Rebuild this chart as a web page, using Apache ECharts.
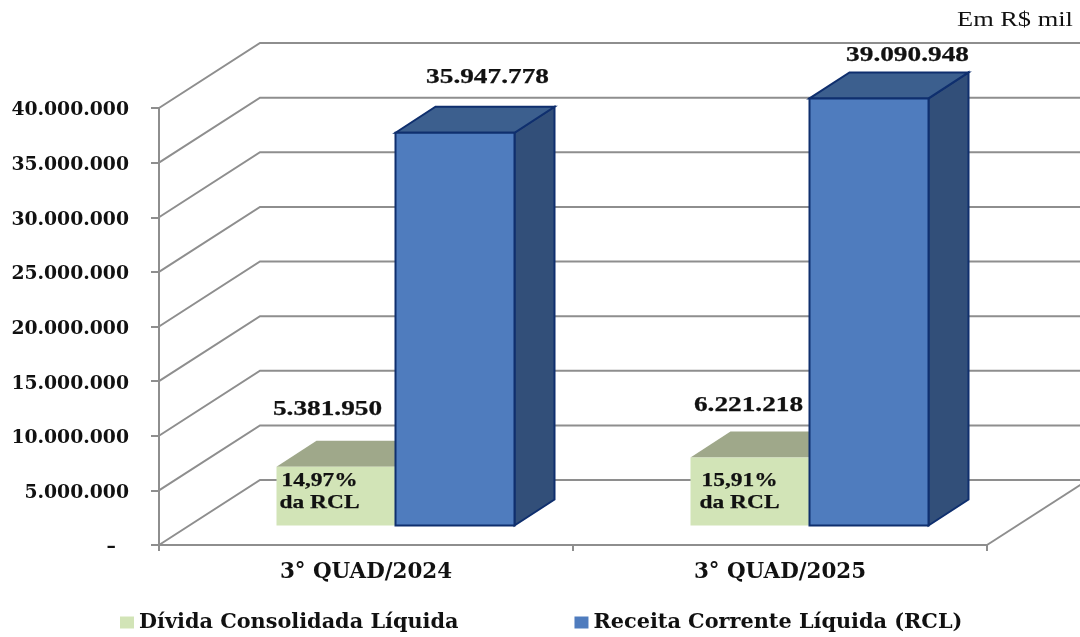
<!DOCTYPE html>
<html>
<head>
<meta charset="utf-8">
<style>html,body{margin:0;padding:0;background:#fff}#c{width:1080px;height:637px}</style>
<script src="https://cdn.jsdelivr.net/npm/echarts@6/dist/echarts.min.js"></script>
</head>
<body>
<div id="c"></div>
<script>
const categories = ['3° QUAD/2024', '3° QUAD/2025'];
const dividaValues = [5381950, 6221218];
const rclValues = [35947778, 39090948];
const dividaLabels = ['5.381.950', '6.221.218'];
const rclLabels = ['35.947.778', '39.090.948'];
const pctLabels = ['14,97%\nda RCL', '15,91%\nda RCL'];
const gridValues = [0, 5000000, 10000000, 15000000, 20000000, 25000000, 30000000, 35000000, 40000000];
const tickLabels = ['–  ', '5.000.000', '10.000.000', '15.000.000', '20.000.000', '25.000.000', '30.000.000', '35.000.000', '40.000.000'];

const WALL_DX = 101, WALL_DY = -65;
const FLOOR_DX = 29.5, FLOOR_DY = -19.5;
const BAR_W = 119, BAR_DX = 40, BAR_DY = -26;
const SERIF = '"Liberation Serif"', WIDE = '"DejaVu Serif"';
const LINE = '#8e8e8e';
const INK = '#111';

function poly(points, fill, stroke) {
  return { type: 'polygon', shape: { points }, style: { fill, stroke: stroke || fill, lineWidth: stroke ? 2 : 0 } };
}
function txt(x, y, text, size, extra) {
  return Object.assign({
    type: 'text', x, y, scaleX: 1.3,
    style: { text, fill: INK, stroke: INK, lineWidth: 0.25, font: 'bold ' + size + 'px ' + SERIF, align: 'center', verticalAlign: 'middle', lineHeight: 22 }
  }, extra || {});
}

function wallItem(params, api) {
  const cs = params.coordSys;
  const v = api.value(0);
  const y = api.coord([0, v])[1];
  const x0 = cs.x, x1 = cs.x + cs.width;
  const children = [{
    type: 'polyline',
    shape: { points: [[x0, y], [x0 + WALL_DX, y + WALL_DY], [x1 + WALL_DX, y + WALL_DY]] },
    style: { stroke: LINE, lineWidth: 2, fill: null }
  }];
  if (v === 0) {
    children.push({
      type: 'line',
      shape: { x1, y1: y, x2: x1 + WALL_DX, y2: y + WALL_DY },
      style: { stroke: LINE, lineWidth: 2 }
    });
  }
  return { type: 'group', children };
}

function dividaItem(params, api) {
  const i = api.value(0);
  const top = api.coord([i, api.value(1)]);
  const base = api.coord([i, 0]);
  const r = top[0] + FLOOR_DX, l = r - BAR_W;
  const yT = top[1] + FLOOR_DY, yB = base[1] + FLOOR_DY;
  return {
    type: 'group',
    children: [
      poly([[l, yT], [l + BAR_DX, yT + BAR_DY], [r + BAR_DX, yT + BAR_DY], [r, yT]], '#9fa88a'),
      poly([[l, yT], [r, yT], [r, yB], [l, yB]], '#d2e4b7'),
      txt(l + (i === 0 ? 43 : 49), yB - 34, pctLabels[i], 19.5, { scaleX: 1.2 }),
      txt(l + (i === 0 ? 51 : 58), yT + (i === 0 ? -57.5 : -52), dividaLabels[i], 21)
    ]
  };
}

function rclItem(params, api) {
  const i = api.value(0);
  const top = api.coord([i, api.value(1)]);
  const base = api.coord([i, 0]);
  const l = top[0] + FLOOR_DX, r = l + BAR_W;
  const yT = top[1] + FLOOR_DY, yB = base[1] + FLOOR_DY;
  const stroke = '#0f2f6e';
  return {
    type: 'group',
    children: [
      poly([[r, yT], [r + BAR_DX, yT + BAR_DY], [r + BAR_DX, yB + BAR_DY], [r, yB]], '#324f79', stroke),
      poly([[l, yT], [l + BAR_DX, yT + BAR_DY], [r + BAR_DX, yT + BAR_DY], [r, yT]], '#3c5f8e', stroke),
      poly([[l, yT], [r, yT], [r, yB], [l, yB]], '#4f7cbe', stroke),
      txt(l + (i === 0 ? 92 : 98), yT + (i === 0 ? -55 : -43), rclLabels[i], 21)
    ]
  };
}

const chart = echarts.init(document.getElementById('c'), null, { renderer: 'canvas' });
chart.setOption({
  animation: false,
  backgroundColor: '#fff',
  grid: { left: 159, right: 93, top: 108, bottom: 92 },
  graphic: [{
    type: 'text', left: 957, top: 9, scaleX: 1.2,
    style: { text: 'Em R$ mil', fill: INK, font: '22px ' + SERIF }
  }],
  legend: {
    left: 115, top: 607, itemWidth: 14, itemHeight: 12, itemGap: 116,
    icon: 'rect',
    data: ['Dívida Consolidada Líquida', 'Receita Corrente Líquida (RCL)'],
    textStyle: { fontFamily: WIDE, fontWeight: 'bold', fontSize: 20.8, color: INK }
  },
  xAxis: {
    type: 'category', data: categories,
    axisLine: { lineStyle: { color: LINE, width: 2 } },
    axisTick: { show: true, length: 6, alignWithLabel: false, lineStyle: { color: LINE, width: 2 } },
    axisLabel: { margin: 17, fontFamily: WIDE, fontWeight: 'bold', fontSize: 21.4, color: INK }
  },
  yAxis: {
    type: 'value', min: 0, max: 40000000, interval: 5000000,
    splitLine: { show: false },
    axisLine: { show: true, lineStyle: { color: LINE, width: 2 } },
    axisTick: { show: true, length: 8, lineStyle: { color: LINE, width: 2 } },
    axisLabel: {
      margin: 30,
      formatter: v => '{t|' + tickLabels[gridValues.indexOf(v)] + '}',
      rich: { t: { padding: [5, 0, 0, 0], fontFamily: WIDE, fontWeight: 'bold', fontSize: 18.8, color: INK } }
    }
  },
  series: [
    { type: 'custom', name: 'wall', silent: true, z: 1, clip: false, renderItem: wallItem, data: gridValues.map(v => [v]), encode: { y: 0 } },
    { type: 'custom', name: 'Dívida Consolidada Líquida', z: 3, clip: false, renderItem: dividaItem, itemStyle: { color: '#d2e4b7' },
      data: dividaValues.map((v, i) => [i, v]), encode: { x: 0, y: 1 } },
    { type: 'custom', name: 'Receita Corrente Líquida (RCL)', z: 4, clip: false, renderItem: rclItem, itemStyle: { color: '#4f7cbe' },
      data: rclValues.map((v, i) => [i, v]), encode: { x: 0, y: 1 } }
  ]
});
</script>
</body>
</html>
